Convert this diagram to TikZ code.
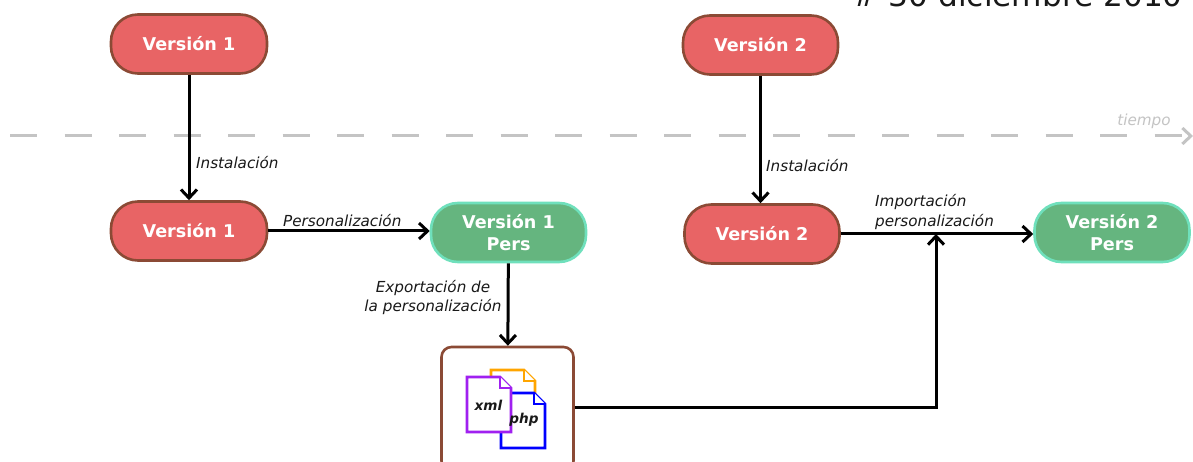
\documentclass[tikz,border=0pt]{standalone}
\usepackage{fontspec}
\setmainfont{DejaVu Sans}
\usetikzlibrary{arrows.meta}
\definecolor{redfill}{HTML}{E86465}
\definecolor{redline}{HTML}{8B4A35}
\definecolor{greenfill}{HTML}{65B57F}
\definecolor{greenline}{HTML}{6FE0BC}
\definecolor{greyline}{HTML}{C4C4C4}
\definecolor{orangedoc}{HTML}{FFA500}
\definecolor{bluedoc}{HTML}{0000FF}
\definecolor{purpledoc}{HTML}{A020F0}
\tikzset{
  x=1pt,y=-1pt,
  stagebox/.style={draw=redline,fill=redfill,line width=2.6pt,rounded corners=27pt,minimum width=155pt,minimum height=59pt,inner sep=0pt,text=white,font=\fontsize{17.6}{22}\selectfont\bfseries,align=center},
  persbox/.style={stagebox,draw=greenline,fill=greenfill},
  filebox/.style={draw=redline,fill=white,line width=2.6pt,rounded corners=10pt,minimum width=132pt,minimum height=124pt,inner sep=0pt},
  flow/.style={draw=black,line width=3pt,-{Straight Barb[length=8.5pt,width=16pt,line width=3pt]}},
  lab/.style={font=\fontsize{15.2}{19.5}\selectfont\itshape,text=black!90,inner sep=0pt,align=center},
  smalllab/.style={lab,font=\fontsize{13.6}{17}\selectfont\bfseries\itshape},
  docline/.style={line width=2.8pt,fill=white,line join=miter},
}
\newcommand{\docsheet}[3]{%
  \draw[docline,draw=#3] (#1,#2) -- ++(33,0) -- ++(11,11) -- ++(0,44) -- ++(-44,0) -- cycle;
  \draw[docline,draw=#3] (#1+33,#2) -- ++(0,11) -- ++(11,0);
}
\begin{document}
\begin{tikzpicture}
\clip (0,0) rectangle (1193,462);
\fill[white] (0,0) rectangle (1193,462);
\node[anchor=base east,font=\fontsize{31.2}{34}\selectfont,text=black!90,inner sep=0pt] (fecha) at (1183,7) {\# 30 diciembre 2010};
\coordinate (ts) at (10,136);
\coordinate (te) at (1193,136);
\draw[greyline,line width=3pt,dash pattern=on 27pt off 27.5pt,-{Straight Barb[length=8.5pt,width=16pt,line width=3pt]}] (ts) -- (te);
\node[lab,text=greyline] (tiempo) at (1144,121) {tiempo};

\node[stagebox,minimum width=156pt] (a1) at (189,44) {Versión 1};
\node[stagebox,minimum width=156pt] (b1) at (189,231) {Versión 1};
\node[persbox] (p1) at (508.5,232.5) {Versión 1\\Pers};
\node[stagebox] (a2) at (760.5,45) {Versión 2};
\node[stagebox] (b2) at (762,234) {Versión 2};
\node[persbox] (p2) at (1112,232.5) {Versión 2\\Pers};
\node[filebox] (f) at (507.5,409) {};

\docsheet{491}{370}{orangedoc}
\docsheet{501}{393}{bluedoc}
\docsheet{467}{377}{purpledoc}
\node[smalllab] (xml) at (488.5,405) {xml};
\node[smalllab] (php) at (524,420) {php};

\coordinate (j) at (936,234);
\path[flow] (a1) -- (a1 |- b1.north);
\path[flow] (b1.east) -- (b1 -| p1.west);
\path[flow] (p1) -- (f);
\path[flow] (a2) -- (a2 |- b2.north);
\path[flow] (b2.east) -- (b2 -| p2.west);
\draw[flow] (f.east |- 0,407) -- (936,407) -- (j);

\node[lab,anchor=west] (l1) at (196,162.5) {Instalación};
\node[lab,anchor=west] (l2) at (283,221) {Personalización};
\node[lab] (l3) at (433,297.5) {Exportación de\\la personalización};
\node[lab,anchor=west] (l4) at (766,165.5) {Instalación};
\node[lab,anchor=west,align=left] (l5) at (875,212) {Importación\\personalización};
\end{tikzpicture}
\end{document}
